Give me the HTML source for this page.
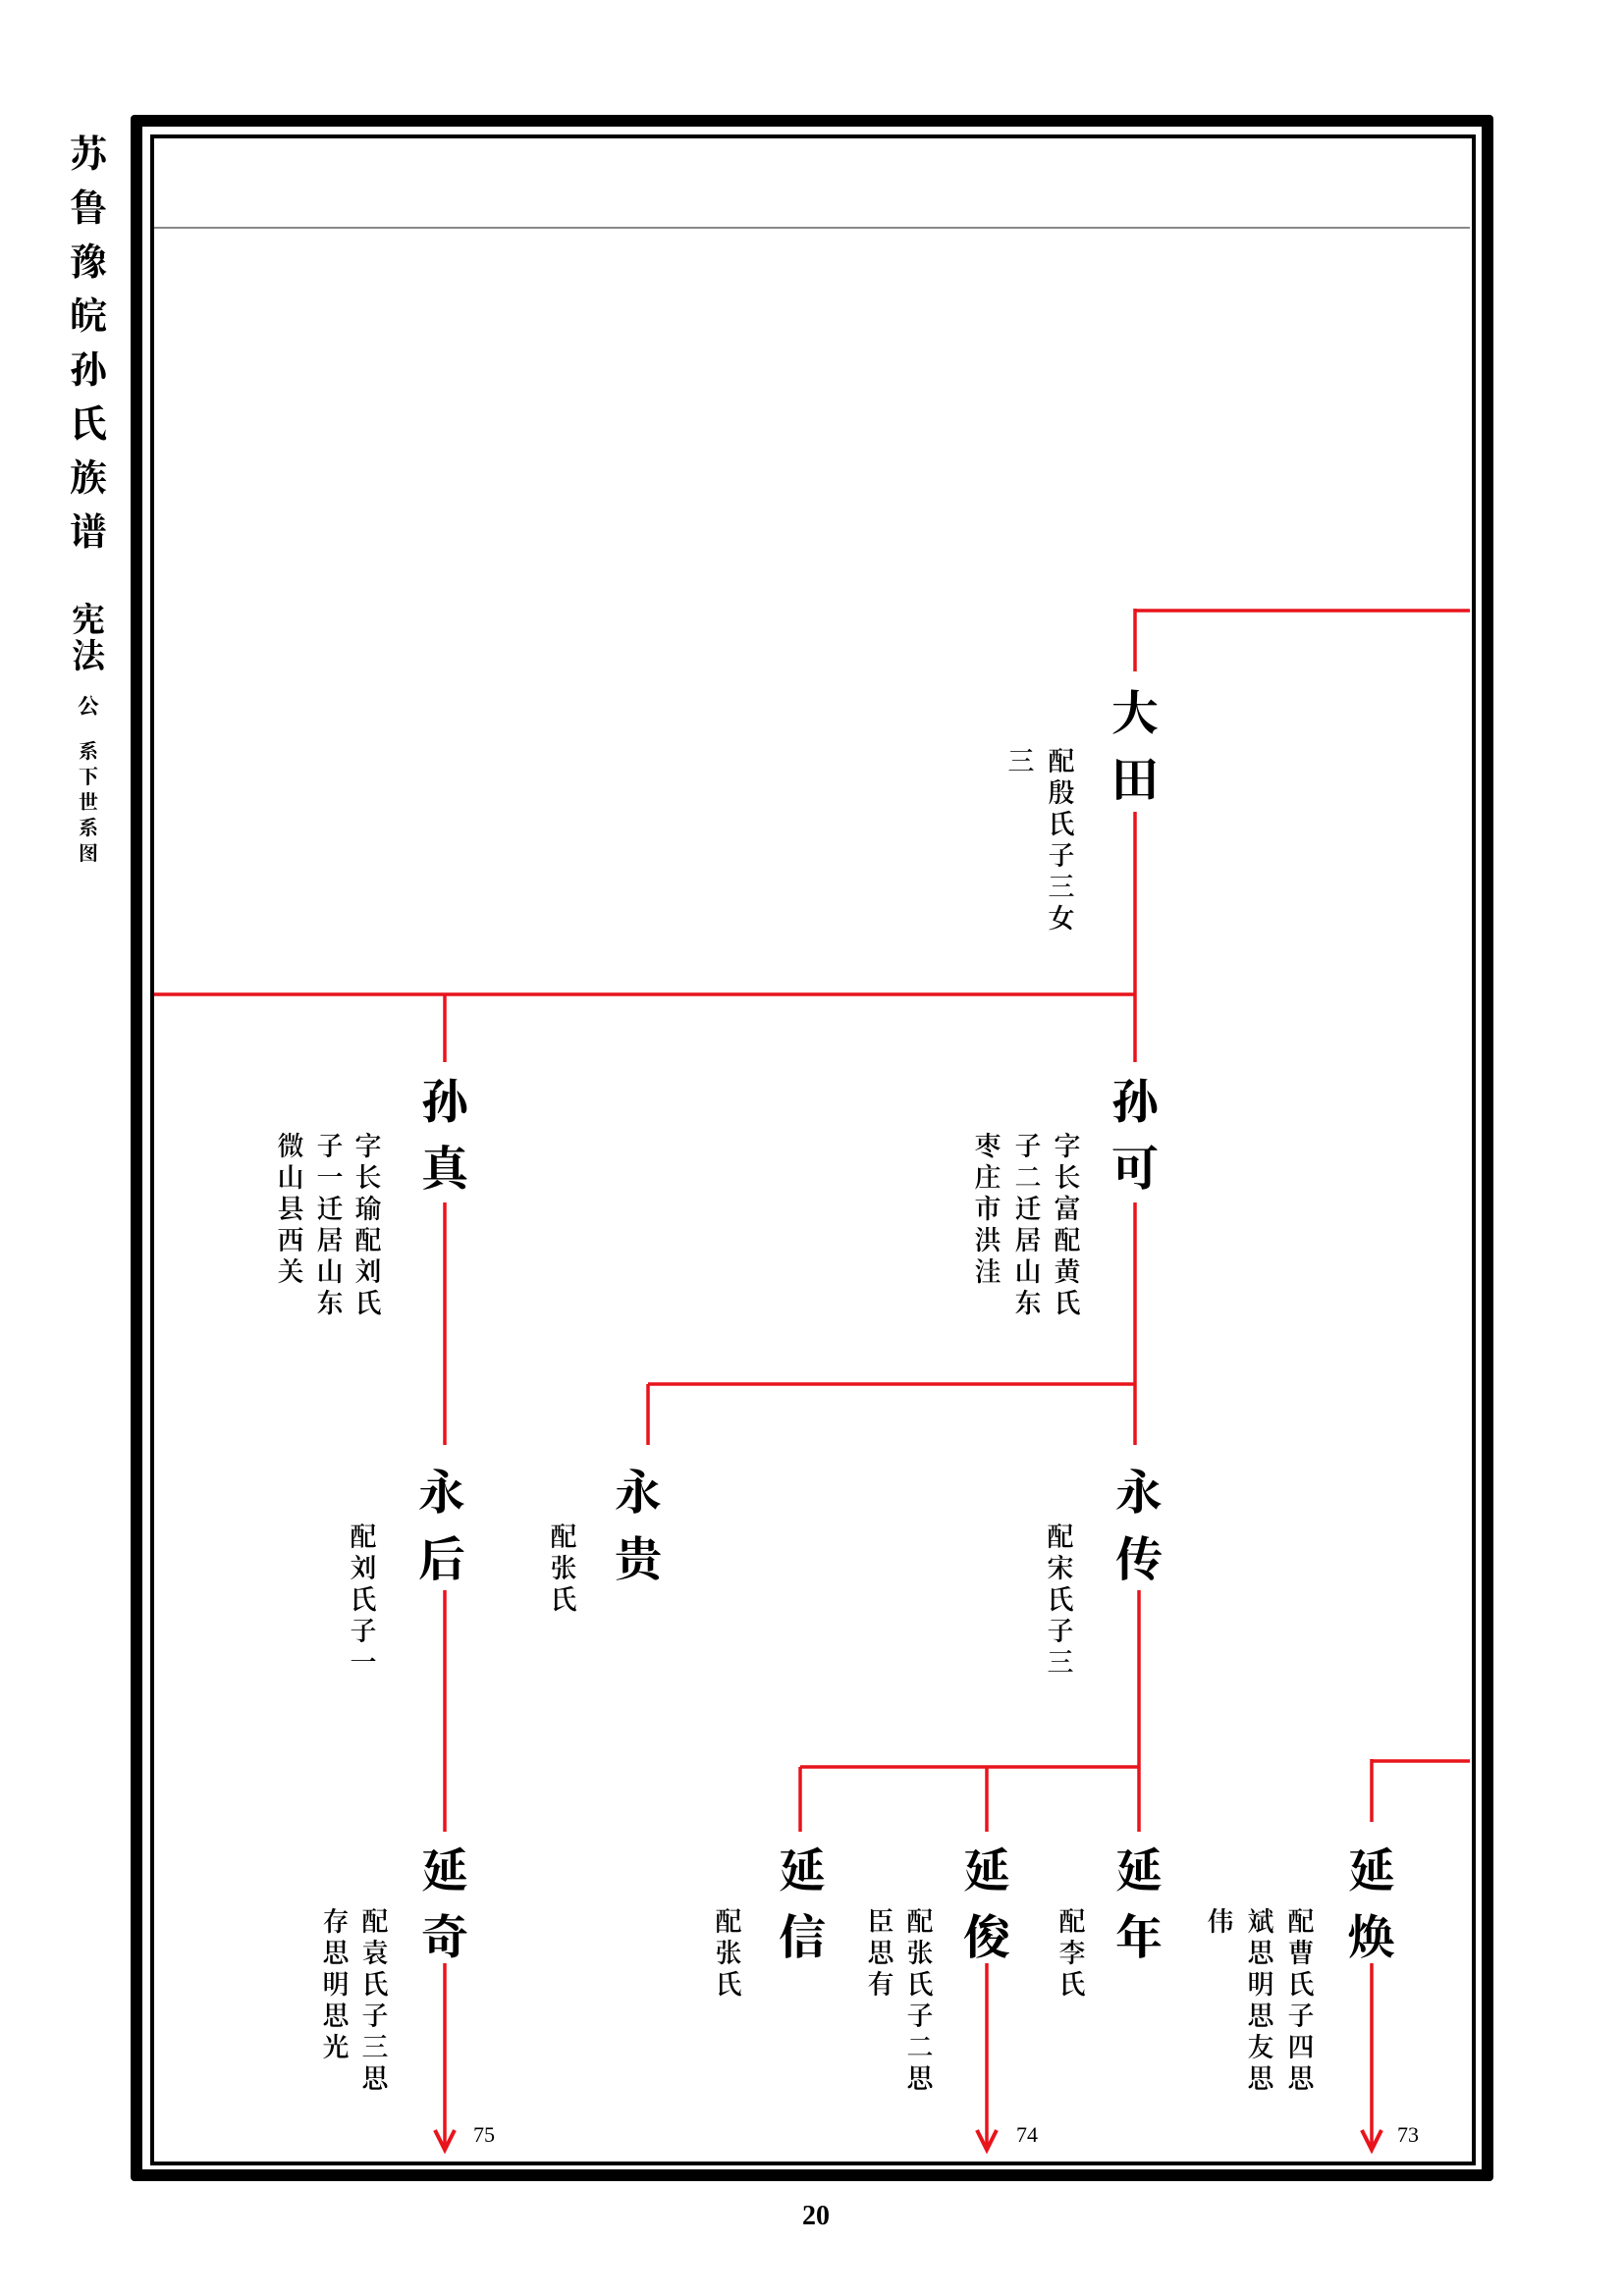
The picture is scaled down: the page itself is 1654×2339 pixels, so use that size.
<!DOCTYPE html>
<html><head><meta charset="utf-8">
<style>
html,body{margin:0;padding:0;background:#fff}
body{width:1654px;height:2339px;position:relative;overflow:hidden;font-family:"Liberation Serif","Noto Serif CJK SC",serif;color:#000}
.c{position:absolute;text-align:center;word-break:break-all}
.n{font-size:48px;line-height:68px;width:60px;font-weight:700}
.t{font-size:27px;line-height:32px;width:32px;font-weight:600}
.h{font-size:38px;line-height:55px;width:50px;font-weight:700}
.num{position:absolute;font-size:22px;font-family:"Liberation Serif",serif}
</style></head><body>
<div style="position:absolute;left:133px;top:117px;width:1364px;height:2081px;border:12px solid #000;border-radius:4px"></div>
<div style="position:absolute;left:153px;top:137px;width:1342px;height:2061px;border:4px solid #000"></div>
<div style="position:absolute;left:157px;top:231px;width:1340px;height:2px;background:#888"></div>

<div class="c h" style="left:65px;top:131px">苏鲁豫皖孙氏族谱</div>
<div class="c" style="left:70px;top:614px;width:40px;font-size:34px;line-height:37px;font-weight:700">宪法</div>
<div class="c" style="left:75px;top:705px;width:30px;font-size:22px;line-height:30px;font-weight:700">公</div>
<div class="c" style="left:77px;top:753px;width:26px;font-size:20px;line-height:26px;font-weight:700">系下世系图</div>

<svg width="1654" height="2339" style="position:absolute;left:0;top:0" fill="none" stroke="#e8141c" stroke-width="3.5">
<path d="M1156 622H1497M1156 620V684M1156 827V1082M157 1013H1156M453 1013V1082M453 1225V1472M1156 1225V1472M660 1410H1156M660 1410V1472M453 1620V1866M1160 1620V1866M815 1800H1160M815 1800V1866M1005 1800V1866M1397 1794H1497M1397 1792V1856"/>
<path d="M453 2000V2190M1005 2000V2190M1397 2000V2190"/>
<path d="M443 2170L453 2190L463 2170M995 2170L1005 2190L1015 2170M1387 2170L1397 2190L1407 2170" stroke-width="4"/>
</svg>

<div class="c n" style="left:1126px;top:694px">大田</div>
<div class="c t" style="left:1065px;top:760px">配殷氏子三女</div>
<div class="c t" style="left:1024px;top:760px">三</div>

<div class="c n" style="left:423px;top:1090px">孙真</div>
<div class="c t" style="left:359px;top:1152px">字长瑜配刘氏</div>
<div class="c t" style="left:320px;top:1152px">子一迁居山东</div>
<div class="c t" style="left:280px;top:1152px">微山县西关</div>

<div class="c n" style="left:1126px;top:1090px">孙可</div>
<div class="c t" style="left:1071px;top:1152px">字长富配黄氏</div>
<div class="c t" style="left:1031px;top:1152px">子二迁居山东</div>
<div class="c t" style="left:990px;top:1152px">枣庄市洪洼</div>

<div class="c n" style="left:420px;top:1488px">永后</div>
<div class="c t" style="left:354px;top:1550px">配刘氏子一</div>
<div class="c n" style="left:620px;top:1488px">永贵</div>
<div class="c t" style="left:558px;top:1550px">配张氏</div>
<div class="c n" style="left:1130px;top:1488px">永传</div>
<div class="c t" style="left:1064px;top:1550px">配宋氏子三</div>

<div class="c n" style="left:423px;top:1873px">延奇</div>
<div class="c t" style="left:366px;top:1942px">配袁氏子三思</div>
<div class="c t" style="left:326px;top:1942px">存思明思光</div>
<div class="c n" style="left:787px;top:1873px">延信</div>
<div class="c t" style="left:726px;top:1942px">配张氏</div>
<div class="c n" style="left:975px;top:1873px">延俊</div>
<div class="c t" style="left:921px;top:1942px">配张氏子二思</div>
<div class="c t" style="left:881px;top:1942px">臣思有</div>
<div class="c n" style="left:1130px;top:1873px">延年</div>
<div class="c t" style="left:1076px;top:1942px">配李氏</div>
<div class="c n" style="left:1367px;top:1873px">延焕</div>
<div class="c t" style="left:1309px;top:1942px">配曹氏子四思</div>
<div class="c t" style="left:1268px;top:1942px">斌思明思友思</div>
<div class="c t" style="left:1227px;top:1942px">伟</div>

<div class="num" style="left:482px;top:2162px">75</div>
<div class="num" style="left:1035px;top:2162px">74</div>
<div class="num" style="left:1423px;top:2162px">73</div>
<div style="position:absolute;left:817px;top:2242px;font-size:28px;font-weight:700;font-family:'Liberation Serif',serif">20</div>
</body></html>
